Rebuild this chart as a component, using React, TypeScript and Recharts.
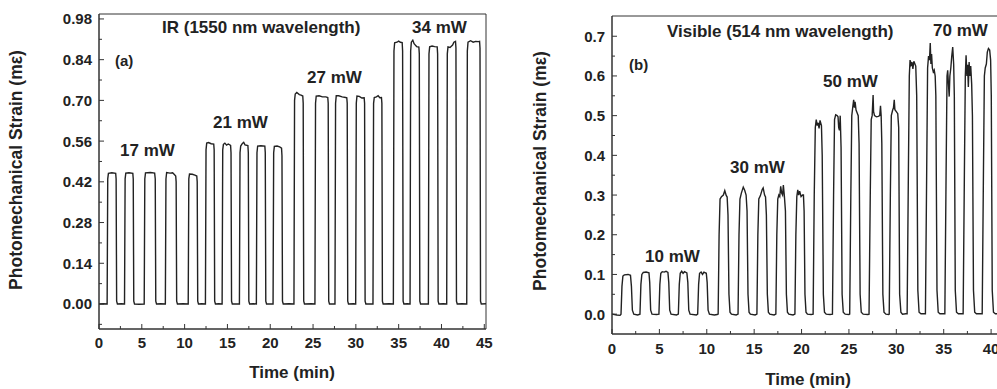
import React from 'react';
import { LineChart, Line, XAxis, YAxis, ReferenceArea } from 'recharts';

type P = [number, number];

// ---- Panel (a): IR 1550 nm, [time (min), strain (mε)] ----
const ir17: P[] = [
  [0, 0], [0.5, 0.001],
  [0.95, 0], [1.02, 0.43], [1.1, 0.449], [1.5, 0.451], [1.95, 0.449], [2.0, 0.43], [2.06, 0.01], [2.15, 0], [2.6, 0.001],
  [2.98, 0], [3.05, 0.43], [3.13, 0.45], [3.5, 0.451], [3.95, 0.449], [4.0, 0.43], [4.06, 0.01], [4.15, 0], [4.7, -0.001],
  [5.28, 0], [5.35, 0.43], [5.43, 0.451], [6.0, 0.452], [6.5, 0.45], [6.57, 0.43], [6.63, 0.01], [6.72, 0], [7.2, 0.001],
  [7.75, 0], [7.82, 0.43], [7.9, 0.452], [8.3, 0.45], [8.6, 0.451], [8.8, 0.445], [8.96, 0.44], [9.01, 0.42], [9.07, 0.01], [9.16, 0], [9.8, 0.001],
  [10.42, 0], [10.49, 0.43], [10.57, 0.447], [10.9, 0.446], [11.2, 0.443], [11.42, 0.44], [11.47, 0.42], [11.53, 0.01], [11.62, 0], [12.0, 0.001],
];
const ir21: P[] = [
  [12.43, 0], [12.5, 0.53], [12.58, 0.553], [12.8, 0.555], [13.1, 0.551], [13.4, 0.55], [13.45, 0.53], [13.51, 0.01], [13.6, 0], [14.0, 0.001],
  [14.38, 0], [14.45, 0.53], [14.53, 0.549], [14.7, 0.553], [14.9, 0.546], [15.1, 0.55], [15.37, 0.545], [15.42, 0.52], [15.48, 0.01], [15.57, 0], [16.0, 0],
  [16.4, 0], [16.47, 0.52], [16.55, 0.543], [16.75, 0.552], [16.9, 0.556], [17.05, 0.547], [17.39, 0.545], [17.44, 0.52], [17.5, 0.01], [17.59, 0], [18.0, 0.001],
  [18.38, 0], [18.45, 0.52], [18.53, 0.543], [18.9, 0.544], [19.37, 0.543], [19.42, 0.52], [19.48, 0.01], [19.57, 0], [20.0, 0],
  [20.33, 0], [20.4, 0.52], [20.48, 0.542], [20.8, 0.543], [21.1, 0.54], [21.32, 0.536], [21.37, 0.51], [21.43, 0.01], [21.52, 0], [22.2, 0.001],
];
const ir27: P[] = [
  [22.77, 0], [22.84, 0.7], [22.92, 0.722], [23.1, 0.727], [23.4, 0.72], [23.6, 0.718], [23.8, 0.715], [23.85, 0.69], [23.91, 0.01], [24.0, 0], [24.8, 0.001],
  [25.22, 0], [25.29, 0.69], [25.37, 0.715], [25.7, 0.716], [26.1, 0.712], [26.5, 0.712], [26.72, 0.71], [26.77, 0.69], [26.83, 0.01], [26.92, 0], [27.3, 0],
  [27.56, 0], [27.63, 0.69], [27.71, 0.716], [28.0, 0.716], [28.4, 0.712], [28.8, 0.71], [28.94, 0.709], [28.99, 0.69], [29.05, 0.01], [29.14, 0], [29.7, 0.001],
  [29.98, 0], [30.05, 0.69], [30.13, 0.715], [30.4, 0.714], [30.7, 0.708], [30.97, 0.709], [31.02, 0.69], [31.08, 0.01], [31.17, 0], [31.7, 0],
  [32.0, 0], [32.07, 0.69], [32.15, 0.71], [32.4, 0.712], [32.6, 0.716], [32.8, 0.709], [32.99, 0.71], [33.04, 0.69], [33.1, 0.01], [33.19, 0], [33.9, 0.001],
];
const ir34: P[] = [
  [34.38, 0], [34.45, 0.87], [34.53, 0.898], [34.8, 0.9], [35.0, 0.904], [35.2, 0.9], [35.41, 0.899], [35.46, 0.87], [35.52, 0.01], [35.61, 0], [36.0, 0.001],
  [36.33, 0], [36.4, 0.87], [36.48, 0.9], [36.65, 0.907], [36.8, 0.895], [36.95, 0.89], [37.1, 0.885], [37.36, 0.883], [37.41, 0.86], [37.47, 0.01], [37.56, 0], [38.0, 0],
  [38.47, 0], [38.54, 0.86], [38.62, 0.884], [38.9, 0.887], [39.2, 0.885], [39.5, 0.884], [39.55, 0.86], [39.61, 0.01], [39.7, 0], [40.2, 0.001],
  [40.61, 0], [40.68, 0.86], [40.76, 0.884], [41.0, 0.882], [41.3, 0.89], [41.45, 0.9], [41.64, 0.903], [41.69, 0.88], [41.75, 0.01], [41.84, 0], [42.4, 0.001],
  [42.95, 0], [43.02, 0.87], [43.1, 0.9], [43.4, 0.905], [43.7, 0.9], [44.0, 0.903], [44.3, 0.902], [44.45, 0.903], [44.5, 0.88], [44.56, 0.01], [44.65, 0], [45.2, 0.001],
];

// ---- Panel (b): Visible 514 nm ----
const vis10: P[] = [
  [0, 0], [0.5, -0.002], [0.85, -0.003],
  [0.95, 0], [1.05, 0.07], [1.15, 0.096], [1.3, 0.099], [1.7, 0.1], [1.95, 0.098], [2.05, 0.07], [2.15, 0.01], [2.3, 0], [2.7, -0.002],
  [2.95, 0], [3.05, 0.075], [3.15, 0.1], [3.3, 0.105], [3.6, 0.106], [3.9, 0.104], [3.98, 0.08], [4.08, 0.01], [4.22, 0], [4.7, -0.001],
  [4.95, 0], [5.05, 0.075], [5.15, 0.103], [5.3, 0.107], [5.5, 0.106], [5.7, 0.108], [5.9, 0.105], [5.99, 0.08], [6.09, 0.01], [6.23, 0], [6.8, -0.002],
  [7.0, 0], [7.1, 0.075], [7.2, 0.103], [7.35, 0.108], [7.5, 0.103], [7.65, 0.107], [7.9, 0.104], [8.0, 0.08], [8.1, 0.01], [8.24, 0], [8.9, -0.002],
  [9.04, 0], [9.14, 0.075], [9.24, 0.103], [9.4, 0.106], [9.55, 0.1], [9.7, 0.106], [9.95, 0.103], [10.04, 0.08], [10.14, 0.01], [10.28, 0], [10.8, -0.002], [11.1, -0.001],
];
const vis30: P[] = [
  [11.2, 0], [11.3, 0.2], [11.4, 0.29], [11.55, 0.296], [11.75, 0.3], [11.9, 0.311], [12.05, 0.299], [12.15, 0.295], [12.24, 0.25], [12.34, 0.05], [12.45, 0.005], [12.6, 0], [13.1, -0.002],
  [13.3, 0], [13.4, 0.2], [13.5, 0.29], [13.65, 0.305], [13.85, 0.32], [14.0, 0.312], [14.15, 0.3], [14.25, 0.26], [14.35, 0.05], [14.46, 0.005], [14.6, 0], [15.1, -0.002],
  [15.29, 0], [15.39, 0.2], [15.49, 0.29], [15.65, 0.298], [15.85, 0.314], [15.95, 0.318], [16.1, 0.3], [16.2, 0.295], [16.29, 0.25], [16.39, 0.05], [16.5, 0.005], [16.65, 0], [17.1, -0.002],
  [17.29, 0], [17.39, 0.2], [17.49, 0.29], [17.6, 0.3], [17.7, 0.296], [17.8, 0.322], [17.9, 0.305], [18.0, 0.3], [18.08, 0.325], [18.18, 0.3], [18.3, 0.26], [18.4, 0.05], [18.51, 0.005], [18.66, 0], [19.1, -0.002],
  [19.3, 0], [19.4, 0.2], [19.5, 0.296], [19.6, 0.313], [19.7, 0.3], [19.8, 0.31], [19.95, 0.296], [20.1, 0.3], [20.2, 0.3], [20.27, 0.26], [20.36, 0.05], [20.47, 0.005], [20.62, 0], [21.0, -0.001],
];
const vis50: P[] = [
  [21.22, 0], [21.34, 0.3], [21.45, 0.47], [21.55, 0.49], [21.65, 0.475], [21.75, 0.482], [21.85, 0.468], [21.95, 0.488], [22.1, 0.475], [22.18, 0.4], [22.3, 0.05], [22.42, 0.005], [22.6, 0], [23.0, -0.001],
  [23.26, 0], [23.38, 0.3], [23.48, 0.49], [23.6, 0.502], [23.75, 0.5], [23.85, 0.497], [23.92, 0.47], [24.0, 0.463], [24.08, 0.5], [24.17, 0.42], [24.28, 0.05], [24.4, 0.005], [24.6, 0], [25.0, -0.001],
  [25.08, 0], [25.2, 0.3], [25.3, 0.5], [25.42, 0.525], [25.5, 0.54], [25.58, 0.52], [25.65, 0.535], [25.75, 0.514], [25.9, 0.505], [25.98, 0.5], [26.07, 0.43], [26.18, 0.05], [26.3, 0.005], [26.5, 0], [27.0, -0.001],
  [27.12, 0], [27.25, 0.3], [27.35, 0.49], [27.45, 0.5], [27.55, 0.552], [27.6, 0.51], [27.7, 0.5], [27.9, 0.497], [28.1, 0.498], [28.25, 0.5], [28.33, 0.525], [28.4, 0.5], [28.47, 0.43], [28.58, 0.05], [28.7, 0.005], [28.9, 0], [29.2, -0.001],
  [29.25, 0], [29.37, 0.3], [29.47, 0.5], [29.6, 0.513], [29.7, 0.52], [29.78, 0.54], [29.85, 0.515], [30.0, 0.51], [30.15, 0.505], [30.25, 0.47], [30.35, 0.05], [30.48, 0.005], [30.65, 0], [31.0, 0.001],
];
const vis70: P[] = [
  [31.14, 0.001], [31.27, 0.35], [31.37, 0.6], [31.45, 0.64], [31.55, 0.628], [31.65, 0.635], [31.75, 0.618], [31.85, 0.637], [32.05, 0.625], [32.15, 0.55], [32.27, 0.06], [32.4, 0.005], [32.6, 0.001], [33.0, 0.001],
  [33.07, 0.001], [33.2, 0.35], [33.3, 0.62], [33.4, 0.65], [33.5, 0.64], [33.58, 0.683], [33.65, 0.63], [33.72, 0.655], [33.8, 0.62], [33.9, 0.61], [34.0, 0.615], [34.1, 0.6], [34.17, 0.55], [34.29, 0.06], [34.42, 0.005], [34.6, 0.001], [35.0, 0.001],
  [35.12, 0.001], [35.25, 0.35], [35.35, 0.6], [35.42, 0.614], [35.5, 0.58], [35.58, 0.548], [35.65, 0.6], [35.75, 0.62], [35.85, 0.65], [35.95, 0.673], [36.05, 0.63], [36.12, 0.55], [36.22, 0.06], [36.35, 0.005], [36.55, 0.001], [37.0, 0.001],
  [37.05, 0.001], [37.18, 0.35], [37.28, 0.6], [37.36, 0.652], [37.45, 0.6], [37.52, 0.628], [37.6, 0.572], [37.68, 0.635], [37.76, 0.6], [37.85, 0.625], [37.95, 0.58], [38.03, 0.5], [38.14, 0.06], [38.27, 0.005], [38.45, 0.001], [39.0, 0.001],
  [39.06, 0.001], [39.19, 0.35], [39.29, 0.6], [39.38, 0.62], [39.5, 0.63], [39.6, 0.66], [39.72, 0.669], [39.85, 0.665], [39.95, 0.64], [40.02, 0.55], [40.12, 0.06], [40.25, 0.005], [40.45, 0.001], [42.1, 0.001],
];

// ---- Ticks ----
const irXMajor = [0, 5, 10, 15, 20, 25, 30, 35, 40, 45];
const irXMinor = [2.5, 7.5, 12.5, 17.5, 22.5, 27.5, 32.5, 37.5, 42.5];
const irYMajor = [0, 0.14, 0.28, 0.42, 0.56, 0.7, 0.84, 0.98];
const irYMinor = [-0.07, 0.07, 0.21, 0.35, 0.49, 0.63, 0.77, 0.91];
const visXMajor = [0, 5, 10, 15, 20, 25, 30, 35, 40];
const visXMinor = [2.5, 7.5, 12.5, 17.5, 22.5, 27.5, 32.5, 37.5];
const visYMajor = [0, 0.1, 0.2, 0.3, 0.4, 0.5, 0.6, 0.7];
const visYMinor = [0.05, 0.15, 0.25, 0.35, 0.45, 0.55, 0.65];

const irDomainX: [number, number] = [0, 45.2];
const irDomainY: [number, number] = [-0.086, 0.997];
const visDomainX: [number, number] = [0, 42.1];
const visDomainY: [number, number] = [-0.05, 0.751];

const toRows = (pts: P[]) => pts.map(([t, v]) => ({ t, v }));
const irData = toRows([...ir17, ...ir21, ...ir27, ...ir34]);
const visData = toRows([...vis10, ...vis30, ...vis50, ...vis70]);

const FONT = '"Liberation Sans", Arial, Helvetica, sans-serif';
const INK = '#222';
const AX = '#333';

const isIn = (arr: number[], v: number) => arr.some((a) => Math.abs(a - v) < 1e-6);

const makeYTick = (majors: number[], digits: number) => (props: any) => {
  const { x, y, payload } = props;
  const major = isIn(majors, payload.value);
  return (
    <g>
      <line x1={x} x2={x + (major ? 5 : 3)} y1={y} y2={y} stroke={AX} strokeWidth={1} />
      {major && (
        <text x={x - 7} y={y} dy={5.5} textAnchor="end" fontFamily={FONT} fontWeight="bold" fontSize={15} fill={INK}>
          {payload.value.toFixed(digits)}
        </text>
      )}
    </g>
  );
};

const makeXTick = (majors: number[], dy: number) => (props: any) => {
  const { x, y, payload } = props;
  const major = isIn(majors, payload.value);
  return (
    <g>
      <line x1={x} x2={x} y1={y} y2={y - (major ? 5 : 3)} stroke={AX} strokeWidth={1} />
      {major && (
        <text x={x} y={y + dy} textAnchor="middle" fontFamily={FONT} fontWeight="bold" fontSize={15} fill={INK}>
          {String(payload.value)}
        </text>
      )}
    </g>
  );
};

const sortNum = (a: number[]) => [...a].sort((p, q) => p - q);

const txt = (x: number, y: number, s: string, size = 17, anchor: 'start' | 'middle' | 'end' = 'start') => (
  <text key={s + x} x={x} y={y} fontFamily={FONT} fontWeight="bold" fontSize={size} fill={INK} textAnchor={anchor}>
    {s}
  </text>
);

export default function App() {
  return (
    <div style={{ position: 'absolute', left: 0, top: 0, width: 997, height: 389, overflow: 'hidden', background: '#fff' }}>
      <div style={{ position: 'absolute', left: 0, top: 0 }}>
        <LineChart width={500} height={389} data={irData} margin={{ top: 14, right: 14, bottom: 0, left: 0 }}>
          <XAxis
            dataKey="t"
            type="number"
            domain={irDomainX}
            allowDataOverflow
            ticks={sortNum([...irXMajor, ...irXMinor])}
            interval={0}
            height={60}
            tickSize={0}
            tickMargin={0}
            tickLine={false}
            axisLine={{ stroke: AX }}
            tick={makeXTick(irXMajor, 19)}
          />
          <YAxis
            type="number"
            domain={irDomainY}
            allowDataOverflow
            ticks={sortNum([...irYMajor, ...irYMinor])}
            interval={0}
            width={99}
            tickSize={0}
            tickMargin={0}
            tickLine={false}
            axisLine={{ stroke: AX }}
            tick={makeYTick(irYMajor, 2)}
          />
          <ReferenceArea x1={irDomainX[0]} x2={irDomainX[1]} y1={irDomainY[0]} y2={irDomainY[1]} fill="none" stroke={AX} strokeWidth={1} ifOverflow="visible" />
          <Line type="linear" dataKey="v" stroke={INK} strokeWidth={1.4} dot={false} isAnimationActive={false} />
        </LineChart>
      </div>
      <div style={{ position: 'absolute', left: 500, top: 0 }}>
        <LineChart width={511} height={389} data={visData} margin={{ top: 16, right: 0, bottom: 0, left: 0 }}>
          <XAxis
            dataKey="t"
            type="number"
            domain={visDomainX}
            allowDataOverflow
            ticks={sortNum([...visXMajor, ...visXMinor])}
            interval={0}
            height={55}
            tickSize={0}
            tickMargin={0}
            tickLine={false}
            axisLine={{ stroke: AX }}
            tick={makeXTick(visXMajor, 20)}
          />
          <YAxis
            type="number"
            domain={visDomainY}
            allowDataOverflow
            ticks={sortNum([...visYMajor, ...visYMinor])}
            interval={0}
            width={112}
            tickSize={0}
            tickMargin={0}
            tickLine={false}
            axisLine={{ stroke: AX }}
            tick={makeYTick(visYMajor, 1)}
          />
          <ReferenceArea x1={visDomainX[0]} x2={visDomainX[1]} y1={visDomainY[0]} y2={visDomainY[1]} fill="none" stroke={AX} strokeWidth={1} ifOverflow="visible" />
          <Line type="linear" dataKey="v" stroke={INK} strokeWidth={1.4} dot={false} isAnimationActive={false} />
        </LineChart>
      </div>
      <svg width={997} height={389} style={{ position: 'absolute', left: 0, top: 0, pointerEvents: 'none' }}>
        {txt(162, 33, 'IR (1550 nm wavelength)')}
        {txt(412, 33, '34 mW')}
        {txt(115, 66, '(a)', 15)}
        {txt(307, 83, '27 mW')}
        {txt(213, 128, '21 mW')}
        {txt(120, 156, '17 mW')}
        {txt(667, 37, 'Visible (514 nm wavelength)')}
        {txt(933, 36, '70 mW')}
        {txt(629, 70, '(b)', 15)}
        {txt(823, 87, '50 mW')}
        {txt(730, 173, '30 mW')}
        {txt(645, 262, '10 mW')}
        {txt(292, 378, 'Time (min)', 17, 'middle')}
        {txt(808, 385, 'Time (min)', 17, 'middle')}
        <text x={22} y={170} transform="rotate(-90 22 170)" textAnchor="middle" fontFamily={FONT} fontWeight="bold" fontSize={17.5} fill={INK}>
          Photomechanical Strain (mε)
        </text>
        <text x={546} y={171} transform="rotate(-90 546 171)" textAnchor="middle" fontFamily={FONT} fontWeight="bold" fontSize={17.5} fill={INK}>
          Photomechanical Strain (mε)
        </text>
      </svg>
    </div>
  );
}
